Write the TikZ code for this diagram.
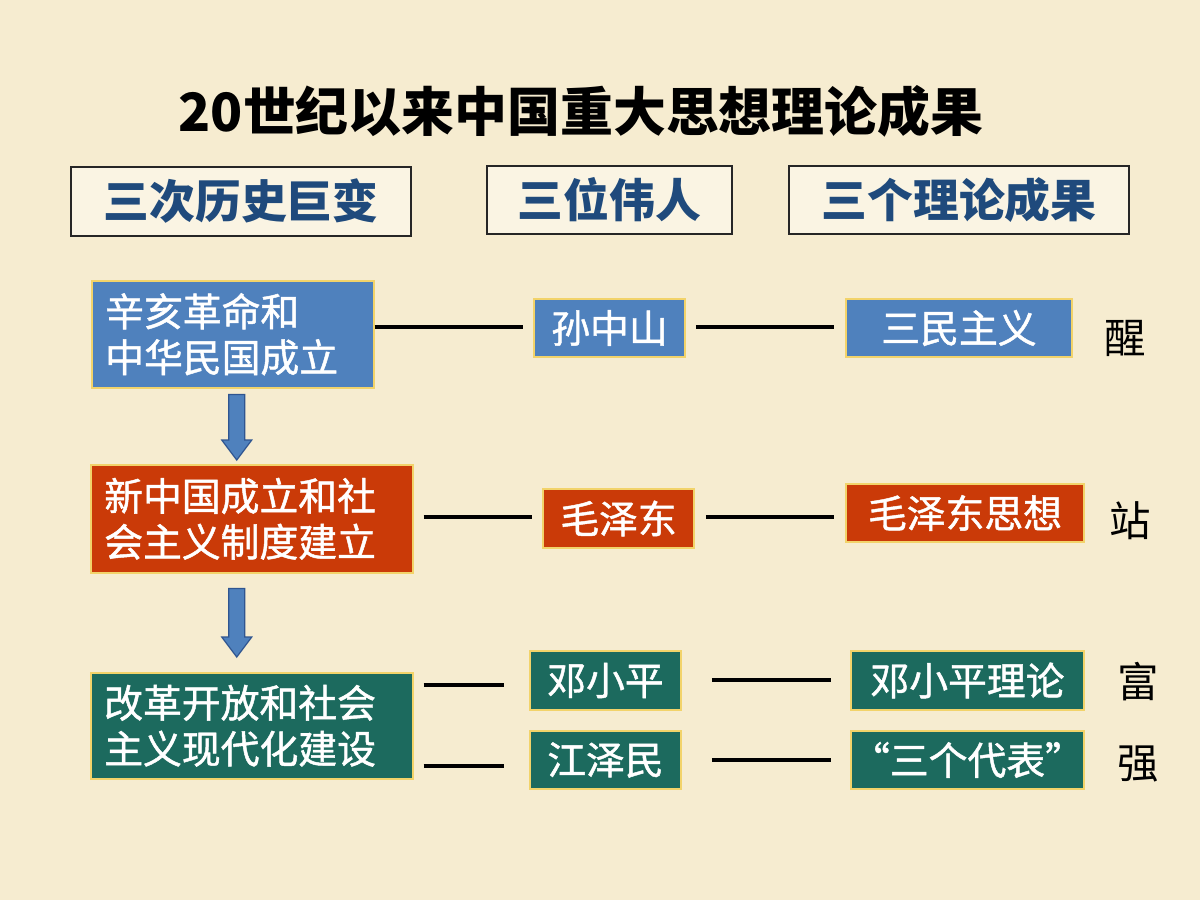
\documentclass[tikz,border=0pt]{standalone}
\usepackage{fontspec}
\setmainfont{Noto Sans CJK SC}
\newfontfamily\boxfont[FakeBold=1.2]{Noto Sans CJK SC}
\usetikzlibrary{calc}
\newlength\PX \setlength\PX{0.025cm}
\definecolor{bg}{HTML}{F6ECD0}
\definecolor{hdrblue}{HTML}{1F4A7C}
\definecolor{cblue}{HTML}{4F81BD}
\definecolor{cred}{HTML}{CA3A08}
\definecolor{cteal}{HTML}{1C6A5E}
\definecolor{edge}{HTML}{F2D36A}
\definecolor{arrowedge}{HTML}{2F5590}
\tikzset{
  hdr/.style={draw=black!85, line width=1.5\PX, fill=bg!60!white, text=hdrblue, inner sep=0,
    font=\fontsize{32.6pt}{36pt}\selectfont\bfseries},
  bigbox/.style={draw=edge, line width=1.5\PX, text=white, align=left, anchor=north west,
    inner xsep=13.5\PX, inner ysep=0, font=\boxfont\fontsize{27.6pt}{32.6pt}\selectfont},
  smallbox/.style={draw=edge, line width=1.5\PX, text=white, inner sep=0,
    font=\boxfont\fontsize{27.6pt}{32pt}\selectfont},
  link/.style={line width=4\PX, black},
  blockarrow/.style={fill=cblue, draw=arrowedge, line width=1.2\PX, line join=miter},
  tipchar/.style={text=black, inner sep=0, font=\fontsize{29.5pt}{32pt}\selectfont},
  titletext/.style={text=black, inner sep=0, font=\fontsize{37.6pt}{40pt}\selectfont\bfseries}
}
\begin{document}
\begin{tikzpicture}[x=0.025cm, y=-0.025cm]
\useasboundingbox (0,0) rectangle (1200,900);
\fill[bg] (0,0) rectangle (1200,900);

\node[titletext] (title) at (581,111) {20世纪以来中国重大思想理论成果};

\node[hdr, minimum width=340\PX, minimum height=69\PX] (h1) at (241,201.5) {三次历史巨变};
\node[hdr, minimum width=245\PX, minimum height=68\PX] (h2) at (609.5,200) {三位伟人};
\node[hdr, minimum width=340\PX, minimum height=68\PX] (h3) at (959,200) {三个理论成果};

% left column
\node[bigbox, fill=cblue, text width=255\PX, minimum height=107\PX] (A) at (91,280) {辛亥革命和\\中华民国成立};
\node[bigbox, fill=cred, text width=295\PX, minimum height=108\PX] (B) at (90,464) {新中国成立和社\\会主义制度建立};
\node[bigbox, fill=cteal, text width=295\PX, minimum height=106\PX] (C) at (90,672) {改革开放和社会\\主义现代化建设};

% people
\node[smallbox, fill=cblue, minimum width=151\PX, minimum height=58\PX] (S) at (609.5,328) {孙中山};
\node[smallbox, fill=cred, minimum width=151\PX, minimum height=59\PX] (M) at (618.5,518.5) {毛泽东};
\node[smallbox, fill=cteal, minimum width=151\PX, minimum height=59\PX] (D) at (605.5,680.5) {邓小平};
\node[smallbox, fill=cteal, minimum width=151\PX, minimum height=58\PX] (J) at (605.5,760) {江泽民};

% theories
\node[smallbox, fill=cblue, minimum width=226\PX, minimum height=58\PX] (ST) at (959,328) {三民主义};
\node[smallbox, fill=cred, minimum width=238\PX, minimum height=58\PX] (MT) at (965,513) {毛泽东思想};
\node[smallbox, fill=cteal, minimum width=233\PX, minimum height=59\PX] (DT) at (967.5,680.5) {邓小平理论};
\node[smallbox, fill=cteal, minimum width=233\PX, minimum height=58\PX] (JT) at (967.5,760) {“三个代表”};

% right characters
\node[tipchar] (x1) at (1125,338) {醒};
\node[tipchar] (x2) at (1130,521) {站};
\node[tipchar] (x3) at (1138,682) {富};
\node[tipchar] (x4) at (1138,764) {强};

% connectors
\draw[link] ($(A.east |- S.west)+(0,-1)$) -- ($(S.west)+(-10,-1)$);
\draw[link] ($(S.east)+(10,-1)$) -- ($(S.east -| ST.west)+(-11,-1)$);
\draw[link] ($(B.east |- M.west)+(10,-1.5)$) -- ($(M.west)+(-10,-1.5)$);
\draw[link] ($(M.east)+(11,-1.5)$) -- ($(M.east -| MT.west)+(-11,-1.5)$);
\draw[link] ($(C.east |- D.west)+(10,4.5)$) -- ($(D.west)+(-25,4.5)$);
\draw[link] ($(C.east |- J.west)+(10,6)$) -- ($(J.west)+(-25,6)$);
\draw[link] ($(D.east)+(30,-0.5)$) -- ($(D.east -| DT.west)+(-19,-0.5)$);
\draw[link] ($(J.east)+(30,0)$) -- ($(J.east -| JT.west)+(-19,0)$);

% block arrows
\coordinate (a1s) at ($(A.south)+(4,6)$);
\coordinate (a1e) at ($(a1s |- B.north)+(0,-4)$);
\draw[blockarrow] ($(a1s)+(-8,0)$) -- ($(a1s)+(8,0)$) -- ($(a1e)+(8,-20)$) -- ($(a1e)+(15,-20)$)
  -- (a1e) -- ($(a1e)+(-15,-20)$) -- ($(a1e)+(-8,-20)$) -- cycle;
\coordinate (a2s) at ($(B.south)+(-15,15)$);
\coordinate (a2e) at ($(a2s |- C.north)+(0,-15)$);
\draw[blockarrow] ($(a2s)+(-8,0)$) -- ($(a2s)+(8,0)$) -- ($(a2e)+(8,-20)$) -- ($(a2e)+(15,-20)$)
  -- (a2e) -- ($(a2e)+(-15,-20)$) -- ($(a2e)+(-8,-20)$) -- cycle;
\end{tikzpicture}
\end{document}
